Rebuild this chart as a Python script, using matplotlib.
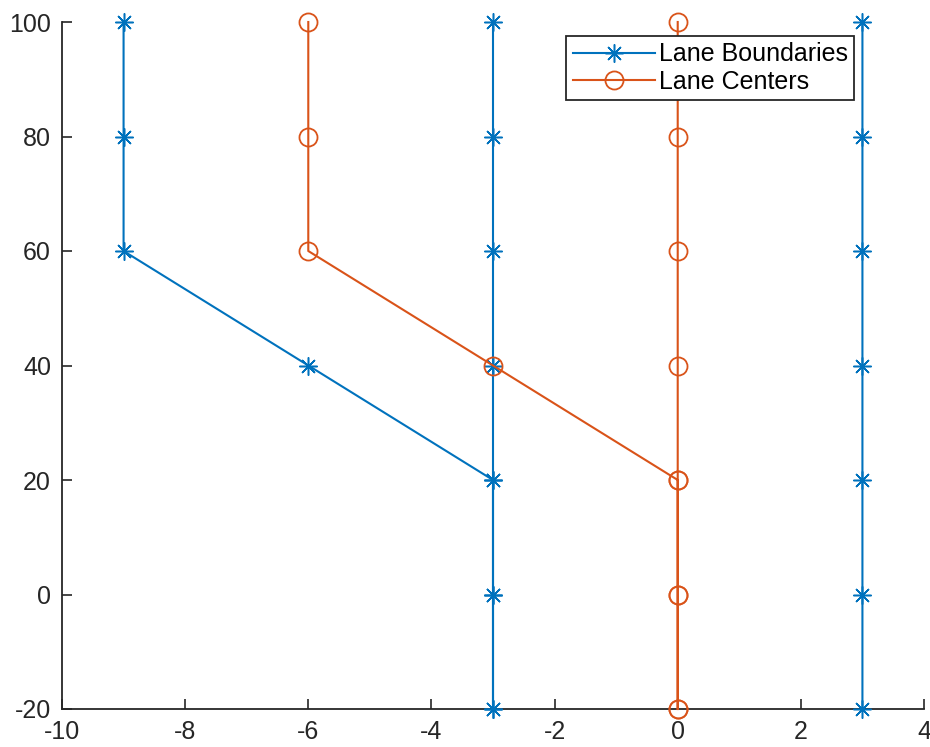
import numpy as np
import matplotlib.pyplot as plt

plt.rcParams['font.family'] = ['Liberation Sans', 'DejaVu Sans']
plt.rcParams['axes.unicode_minus'] = False

# lane boundaries (NaN separates the pieces)
bound_x = [-9, -9, -9, -6, -3, -3, -3, np.nan,
           -3, -3, -3, -3, -3, -3, -3, np.nan,
           3, 3, 3, 3, 3, 3, 3]
bound_y = [100, 80, 60, 40, 20, 0, -20, np.nan,
           -20, 0, 20, 40, 60, 80, 100, np.nan,
           -20, 0, 20, 40, 60, 80, 100]

# lane centers
center_x = [-6, -6, -6, -3, 0, 0, 0, np.nan,
            0, 0, 0, 0, 0, 0, 0]
center_y = [100, 80, 60, 40, 20, 0, -20, np.nan,
            -20, 0, 20, 40, 60, 80, 100]

blue = '#0072BD'
orange = '#D95319'

fig = plt.figure(figsize=(9.3, 7.47), dpi=100)
ax = fig.add_axes([62/930, 38/747, (924-62)/930, (709-22)/747])

ax.plot(bound_x, bound_y, color=blue, lw=1.5, marker=(8, 2, 0), ms=13, mew=1.1,
        label='Lane Boundaries', clip_on=False, zorder=3)
ax.plot(center_x, center_y, color=orange, lw=1.5, marker='o', ms=13, mfc='none',
        mew=1.3, label='Lane Centers', clip_on=False, zorder=3)

ax.set_xlim(-10, 4)
ax.set_ylim(-20, 100)
ax.set_xticks(np.arange(-10, 5, 2))
ax.set_yticks(np.arange(-20, 101, 20))
ax.spines['top'].set_visible(False)
ax.spines['right'].set_visible(False)
for s in ['left', 'bottom']:
    ax.spines[s].set_color('#262626')
    ax.spines[s].set_linewidth(1.3)
ax.tick_params(direction='in', length=7, width=1.2, colors='#262626',
               labelsize=18, labelcolor='#262626', pad=8)

leg = ax.legend(loc='upper right', bbox_to_anchor=((854-62)/862, 1 - 14/687),
                fontsize=18, fancybox=False, framealpha=1, borderpad=0.25,
                labelspacing=0.15, handlelength=3.3, handletextpad=0.15,
                borderaxespad=0)
leg.get_frame().set_edgecolor('#262626')
leg.get_frame().set_linewidth(1.3)
leg.set_zorder(5)

fig.savefig('out.png', dpi=100)
